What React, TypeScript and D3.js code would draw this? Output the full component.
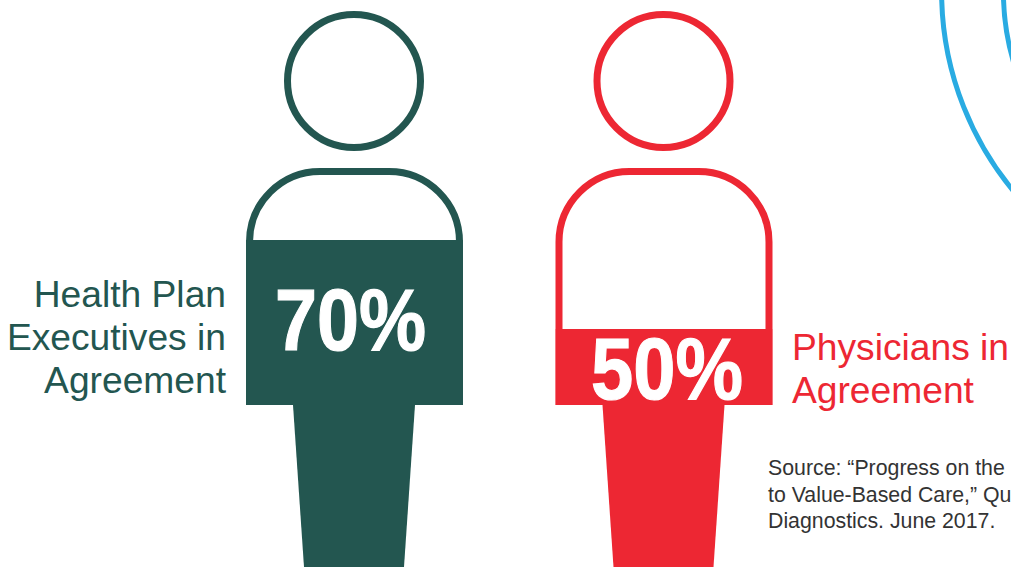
import React from "react";
import * as d3 from "d3";

// Agreement shares and their labels
const groups = ["Health Plan Executives", "Physicians"];
const shares = [0.7, 0.5];
const shareLabels = ["70%", "50%"];
const colors = ["#235650", "#ed2733"];
const figureOffsets = [0, 309.5];
const groupLines = [
  ["Health Plan", "Executives in", "Agreement"],
  ["Physicians in", "Agreement"],
];
const sourceLines = [
  "Source: “Progress on the",
  "to Value-Based Care,” Qu",
  "Diagnostics. June 2017.",
];

const W = 1011;
const H = 567;
const LABEL_FONT = "'Liberation Sans', Arial, sans-serif";

// Vertical level reached by a given share inside the figure
const levelY = d3.scaleLinear().domain([0, 1]).range([551.5, 106.5]);

function torsoPath(inset: number) {
  const p = d3.path();
  const l = 246 + inset;
  const r = 463 - inset;
  const t = 168 + inset;
  const b = 405;
  const rad = 74 - inset;
  p.moveTo(l, b);
  p.lineTo(l, t + rad);
  p.arcTo(l, t, l + rad, t, rad);
  p.lineTo(r - rad, t);
  p.arcTo(r, t, r, t + rad, rad);
  p.lineTo(r, b);
  return p.toString();
}

const legLine = d3.line();
const legPoints: [number, number][] = [
  [293, 405],
  [415, 405],
  [404, 567],
  [304, 567],
];

function Figure({ index }: { index: number }) {
  const color = colors[index];
  const clipId = `torso-${index}`;
  const top = levelY(shares[index]);
  return (
    <g transform={`translate(${figureOffsets[index]},0)`}>
      <clipPath id={clipId}>
        <path d={torsoPath(0) + "Z"} />
      </clipPath>
      <circle cx={354} cy={81} r={66.5} fill="none" stroke={color} strokeWidth={7} />
      <path d={torsoPath(3.5)} fill="none" stroke={color} strokeWidth={7} />
      <rect x={240} y={top} width={230} height={405 - top} fill={color} clipPath={`url(#${clipId})`} />
      <path d={legLine(legPoints) + "Z"} fill={color} />
    </g>
  );
}

export default function App() {
  return (
    <svg
      width={W}
      height={H}
      viewBox={`0 0 ${W} ${H}`}
      style={{ position: "absolute", left: 0, top: 0, background: "#fff" }}
      aria-label={groups.join(" and ")}
    >
      <circle cx={1254.4} cy={-8.5} r={312.8} fill="none" stroke="#29abe2" strokeWidth={5} />
      <circle cx={1254.4} cy={-8.5} r={251} fill="none" stroke="#29abe2" strokeWidth={5} />

      {groups.map((_, i) => (
        <Figure key={i} index={i} />
      ))}

      <text
        x={275}
        y={350}
        fontFamily={LABEL_FONT}
        fontWeight={700}
        fontSize={88}
        fill="#fff"
        stroke="#fff"
        strokeWidth={1.2}
        textLength={151}
        lengthAdjust="spacingAndGlyphs"
      >
        {shareLabels[0]}
      </text>
      <text
        x={591}
        y={399}
        fontFamily={LABEL_FONT}
        fontWeight={700}
        fontSize={88}
        fill="#fff"
        stroke="#fff"
        strokeWidth={1.2}
        textLength={152}
        lengthAdjust="spacingAndGlyphs"
      >
        {shareLabels[1]}
      </text>

      {groupLines[0].map((line, i) => (
        <text
          key={line}
          x={226}
          y={307 + i * 43}
          textAnchor="end"
          fontFamily={LABEL_FONT}
          fontSize={37.2}
          fill={colors[0]}
        >
          {line}
        </text>
      ))}
      {groupLines[1].map((line, i) => (
        <text key={line} x={792} y={360 + i * 43} fontFamily={LABEL_FONT} fontSize={37.2} fill={colors[1]}>
          {line}
        </text>
      ))}

      {sourceLines.map((line, i) => (
        <text key={line} x={768} y={475 + i * 26.5} fontFamily={LABEL_FONT} fontSize={21.3} fill="#333">
          {line}
        </text>
      ))}
    </svg>
  );
}
